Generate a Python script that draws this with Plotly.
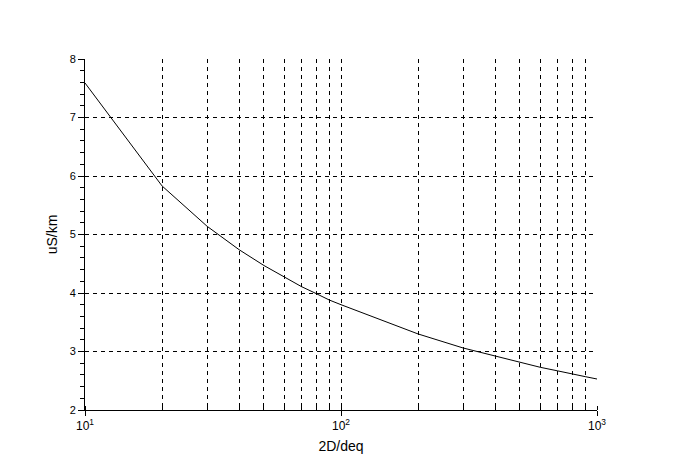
import plotly.graph_objects as go

ratio_2D_deq = [10, 20, 30, 40, 50, 60, 70, 80, 90, 100,
                200, 300, 400, 500, 600, 700, 800, 900, 1000]
susceptance_uS_km = [7.59, 5.83, 5.14, 4.74, 4.47, 4.27, 4.11, 3.99, 3.88, 3.80,
                     3.30, 3.06, 2.92, 2.81, 2.73, 2.67, 2.61, 2.57, 2.53]
x_tick_vals = [10, 100, 1000]
x_tick_text = ["10<sup>1</sup>", "10<sup>2</sup>", "10<sup>3</sup>"]
y_tick_vals = [2, 3, 4, 5, 6, 7, 8]

fig = go.Figure()
fig.add_trace(go.Scatter(x=ratio_2D_deq, y=susceptance_uS_km, mode="lines",
                         line=dict(color="black", width=1), showlegend=False))

fig.update_layout(
    width=682, height=468,
    margin=dict(l=77, r=93, t=51, b=66),
    paper_bgcolor="white", plot_bgcolor="white",
    font=dict(family="Liberation Sans, Arial, sans-serif", size=11, color="black"),
)
fig.update_xaxes(
    type="log", range=[1, 3],
    tickvals=x_tick_vals, ticktext=x_tick_text,
    showline=True, linecolor="black", linewidth=1,
    ticks="outside", ticklen=5, tickcolor="black",
    showgrid=True, gridcolor="black", gridwidth=1, griddash="4px,4px",
    minor=dict(dtick="D1", showgrid=True, gridcolor="black", gridwidth=1,
               griddash="4px,4px", ticks="inside", ticklen=4, tickcolor="black"),
    zeroline=False,
    title=dict(text="2D/deq", font=dict(size=14), standoff=8),
    tickfont=dict(size=12),
)
fig.update_yaxes(
    range=[2, 8], tickvals=y_tick_vals,
    showline=True, linecolor="black", linewidth=1,
    ticks="outside", ticklen=6, tickcolor="black",
    showgrid=True, gridcolor="black", gridwidth=1, griddash="4px,4px",
    minor=dict(dtick=0.2, showgrid=False, ticks="outside", ticklen=4, tickcolor="black"),
    zeroline=False,
    title=dict(text="uS/km", font=dict(size=14), standoff=8),
    tickfont=dict(size=11),
)
fig.write_html("out.html")
